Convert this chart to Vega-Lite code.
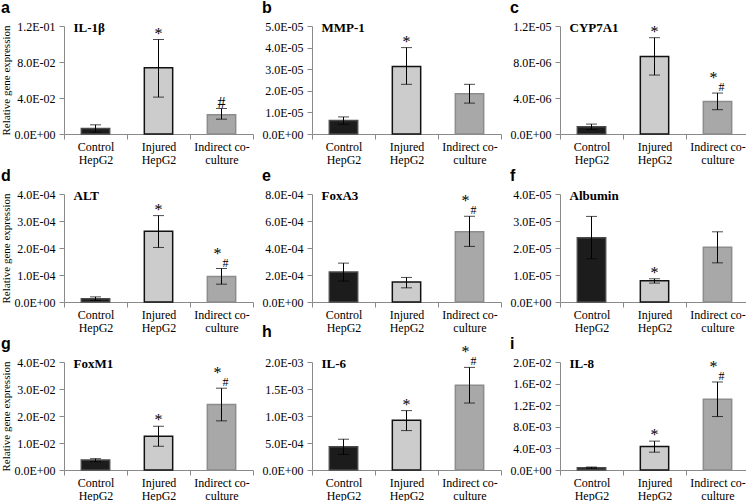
{
"$schema": "https://vega.github.io/schema/vega-lite/v6.json",
"padding": {"left": 0, "top": 0, "right": 0, "bottom": 0},
"data": {"values": [
{"p":"a","gene":"IL-1β","g":"Control|HepG2","v":0.006,"lo":0.002,"hi":0.0102,"s1":"","s2":""},
{"p":"a","gene":"IL-1β","g":"Injured|HepG2","v":0.0735,"lo":0.041,"hi":0.105,"s1":"*","s2":""},
{"p":"a","gene":"IL-1β","g":"Indirect co-|culture","v":0.0215,"lo":0.0165,"hi":0.0283,"s1":"#","s2":""},
{"p":"b","gene":"MMP-1","g":"Control|HepG2","v":6.2e-6,"lo":4.5e-6,"hi":7.9e-6,"s1":"","s2":""},
{"p":"b","gene":"MMP-1","g":"Injured|HepG2","v":3.12e-5,"lo":2.3e-5,"hi":4.0e-5,"s1":"*","s2":""},
{"p":"b","gene":"MMP-1","g":"Indirect co-|culture","v":1.86e-5,"lo":1.43e-5,"hi":2.3e-5,"s1":"","s2":""},
{"p":"c","gene":"CYP7A1","g":"Control|HepG2","v":8e-7,"lo":5e-7,"hi":1.1e-6,"s1":"","s2":""},
{"p":"c","gene":"CYP7A1","g":"Injured|HepG2","v":8.6e-6,"lo":6.55e-6,"hi":1.07e-5,"s1":"*","s2":""},
{"p":"c","gene":"CYP7A1","g":"Indirect co-|culture","v":3.6e-6,"lo":2.7e-6,"hi":4.55e-6,"s1":"*","s2":"#"},
{"p":"d","gene":"ALT","g":"Control|HepG2","v":1.2e-5,"lo":0.6e-5,"hi":1.9e-5,"s1":"","s2":""},
{"p":"d","gene":"ALT","g":"Injured|HepG2","v":2.62e-4,"lo":2.02e-4,"hi":3.2e-4,"s1":"*","s2":""},
{"p":"d","gene":"ALT","g":"Indirect co-|culture","v":9.4e-5,"lo":6.6e-5,"hi":1.24e-4,"s1":"*","s2":"#"},
{"p":"e","gene":"FoxA3","g":"Control|HepG2","v":2.22e-4,"lo":1.55e-4,"hi":2.88e-4,"s1":"","s2":""},
{"p":"e","gene":"FoxA3","g":"Injured|HepG2","v":1.48e-4,"lo":1.05e-4,"hi":1.82e-4,"s1":"","s2":""},
{"p":"e","gene":"FoxA3","g":"Indirect co-|culture","v":5.2e-4,"lo":4.12e-4,"hi":6.35e-4,"s1":"*","s2":"#"},
{"p":"f","gene":"Albumin","g":"Control|HepG2","v":2.38e-5,"lo":1.6e-5,"hi":3.17e-5,"s1":"","s2":""},
{"p":"f","gene":"Albumin","g":"Injured|HepG2","v":7.9e-6,"lo":7.0e-6,"hi":8.6e-6,"s1":"*","s2":""},
{"p":"f","gene":"Albumin","g":"Indirect co-|culture","v":2.03e-5,"lo":1.45e-5,"hi":2.6e-5,"s1":"","s2":""},
{"p":"g","gene":"FoxM1","g":"Control|HepG2","v":3.7e-3,"lo":3.1e-3,"hi":4.2e-3,"s1":"","s2":""},
{"p":"g","gene":"FoxM1","g":"Injured|HepG2","v":1.25e-2,"lo":8.8e-3,"hi":1.62e-2,"s1":"*","s2":""},
{"p":"g","gene":"FoxM1","g":"Indirect co-|culture","v":2.43e-2,"lo":1.82e-2,"hi":3.03e-2,"s1":"*","s2":"#"},
{"p":"h","gene":"IL-6","g":"Control|HepG2","v":4.3e-4,"lo":2.9e-4,"hi":5.7e-4,"s1":"","s2":""},
{"p":"h","gene":"IL-6","g":"Injured|HepG2","v":9.2e-4,"lo":7.3e-4,"hi":1.1e-3,"s1":"*","s2":""},
{"p":"h","gene":"IL-6","g":"Indirect co-|culture","v":1.57e-3,"lo":1.24e-3,"hi":1.9e-3,"s1":"*","s2":"#"},
{"p":"i","gene":"IL-8","g":"Control|HepG2","v":4.2e-4,"lo":3.2e-4,"hi":5.5e-4,"s1":"","s2":""},
{"p":"i","gene":"IL-8","g":"Injured|HepG2","v":4.35e-3,"lo":3.3e-3,"hi":5.35e-3,"s1":"*","s2":""},
{"p":"i","gene":"IL-8","g":"Indirect co-|culture","v":1.31e-2,"lo":9.9e-3,"hi":1.63e-2,"s1":"*","s2":"#"}
]},
"columns": 3,
"bounds": "flush",
"spacing": {"row": 60, "column": 59},
"concat": [
{"title": "a", "width": 189, "height": 108, "transform": [{"filter": "datum.p == 'a'"}],
 "encoding": {"x": {"field": "g", "type": "nominal", "sort": null}},
 "layer": [
  {"mark": {"type": "bar", "width": {"band": 0.45}, "strokeWidth": 1.5},
   "encoding": {"y": {"field": "v", "type": "quantitative", "title": "Relative gene expression", "scale": {"domain": [0, 0.12]}, "axis": {"values": [0, 0.04, 0.08, 0.12]}},
     "fill": {"field": "g", "type": "nominal", "sort": null, "scale": {"range": ["#1c1c1c", "#cccccc", "#a8a8a8"]}, "legend": null},
     "stroke": {"field": "g", "type": "nominal", "sort": null, "scale": {"range": ["#4a4a4a", "#111111", "#8c8c8c"]}, "legend": null}}},
  {"mark": {"type": "errorbar", "ticks": {"size": 11, "color": "#000"}, "rule": {"color": "#000"}}, "encoding": {"y": {"field": "lo", "type": "quantitative", "title": "Relative gene expression"}, "y2": {"field": "hi"}}},
  {"transform": [{"filter": "datum.s2 == ''"}], "mark": {"type": "text", "fontSize": 16, "fill": "#000", "baseline": "alphabetic", "dy": -1}, "encoding": {"y": {"field": "hi", "type": "quantitative", "title": "Relative gene expression"}, "text": {"field": "s1"}}},
  {"transform": [{"filter": "datum.s2 != ''"}], "mark": {"type": "text", "fontSize": 16, "fill": "#000", "baseline": "alphabetic", "dx": -4, "dy": -10}, "encoding": {"y": {"field": "hi", "type": "quantitative", "title": "Relative gene expression"}, "text": {"field": "s1"}}},
  {"transform": [{"filter": "datum.s2 != ''"}], "mark": {"type": "text", "fontSize": 12, "fill": "#000", "baseline": "alphabetic", "dx": 4, "dy": -2}, "encoding": {"y": {"field": "hi", "type": "quantitative", "title": "Relative gene expression"}, "text": {"field": "s2"}}},
  {"transform": [{"filter": "datum.g == 'Control|HepG2'"}], "mark": {"type": "text", "fontSize": 13, "fill": "#000", "fontWeight": "bold", "align": "left", "baseline": "middle", "dx": -22, "dy": 2}, "encoding": {"y": {"datum": 0.12, "type": "quantitative"}, "text": {"field": "gene"}}}
 ]},
{"title": "b", "width": 189, "height": 108, "transform": [{"filter": "datum.p == 'b'"}],
 "encoding": {"x": {"field": "g", "type": "nominal", "sort": null}},
 "layer": [
  {"mark": {"type": "bar", "width": {"band": 0.45}, "strokeWidth": 1.5},
   "encoding": {"y": {"field": "v", "type": "quantitative", "title": null, "scale": {"domain": [0, 5e-5]}, "axis": {"values": [0, 1e-5, 2e-5, 3e-5, 4e-5, 5e-5]}},
     "fill": {"field": "g", "type": "nominal", "sort": null, "legend": null},
     "stroke": {"field": "g", "type": "nominal", "sort": null, "legend": null}}},
  {"mark": {"type": "errorbar", "ticks": {"size": 11, "color": "#000"}, "rule": {"color": "#000"}}, "encoding": {"y": {"field": "lo", "type": "quantitative", "title": null}, "y2": {"field": "hi"}}},
  {"transform": [{"filter": "datum.s2 == ''"}], "mark": {"type": "text", "fontSize": 16, "fill": "#000", "baseline": "alphabetic", "dy": -1}, "encoding": {"y": {"field": "hi", "type": "quantitative", "title": null}, "text": {"field": "s1"}}},
  {"transform": [{"filter": "datum.s2 != ''"}], "mark": {"type": "text", "fontSize": 16, "fill": "#000", "baseline": "alphabetic", "dx": -4, "dy": -10}, "encoding": {"y": {"field": "hi", "type": "quantitative", "title": null}, "text": {"field": "s1"}}},
  {"transform": [{"filter": "datum.s2 != ''"}], "mark": {"type": "text", "fontSize": 12, "fill": "#000", "baseline": "alphabetic", "dx": 4, "dy": -2}, "encoding": {"y": {"field": "hi", "type": "quantitative", "title": null}, "text": {"field": "s2"}}},
  {"transform": [{"filter": "datum.g == 'Control|HepG2'"}], "mark": {"type": "text", "fontSize": 13, "fill": "#000", "fontWeight": "bold", "align": "left", "baseline": "middle", "dx": -22, "dy": 2}, "encoding": {"y": {"datum": 5e-5, "type": "quantitative"}, "text": {"field": "gene"}}}
 ]},
{"title": "c", "width": 189, "height": 108, "transform": [{"filter": "datum.p == 'c'"}],
 "encoding": {"x": {"field": "g", "type": "nominal", "sort": null}},
 "layer": [
  {"mark": {"type": "bar", "width": {"band": 0.45}, "strokeWidth": 1.5},
   "encoding": {"y": {"field": "v", "type": "quantitative", "title": null, "scale": {"domain": [0, 1.2e-5]}, "axis": {"values": [0, 4e-6, 8e-6, 1.2e-5]}},
     "fill": {"field": "g", "type": "nominal", "sort": null, "legend": null},
     "stroke": {"field": "g", "type": "nominal", "sort": null, "legend": null}}},
  {"mark": {"type": "errorbar", "ticks": {"size": 11, "color": "#000"}, "rule": {"color": "#000"}}, "encoding": {"y": {"field": "lo", "type": "quantitative", "title": null}, "y2": {"field": "hi"}}},
  {"transform": [{"filter": "datum.s2 == ''"}], "mark": {"type": "text", "fontSize": 16, "fill": "#000", "baseline": "alphabetic", "dy": -1}, "encoding": {"y": {"field": "hi", "type": "quantitative", "title": null}, "text": {"field": "s1"}}},
  {"transform": [{"filter": "datum.s2 != ''"}], "mark": {"type": "text", "fontSize": 16, "fill": "#000", "baseline": "alphabetic", "dx": -4, "dy": -10}, "encoding": {"y": {"field": "hi", "type": "quantitative", "title": null}, "text": {"field": "s1"}}},
  {"transform": [{"filter": "datum.s2 != ''"}], "mark": {"type": "text", "fontSize": 12, "fill": "#000", "baseline": "alphabetic", "dx": 4, "dy": -2}, "encoding": {"y": {"field": "hi", "type": "quantitative", "title": null}, "text": {"field": "s2"}}},
  {"transform": [{"filter": "datum.g == 'Control|HepG2'"}], "mark": {"type": "text", "fontSize": 13, "fill": "#000", "fontWeight": "bold", "align": "left", "baseline": "middle", "dx": -22, "dy": 2}, "encoding": {"y": {"datum": 1.2e-5, "type": "quantitative"}, "text": {"field": "gene"}}}
 ]},
{"title": "d", "width": 189, "height": 108, "transform": [{"filter": "datum.p == 'd'"}],
 "encoding": {"x": {"field": "g", "type": "nominal", "sort": null}},
 "layer": [
  {"mark": {"type": "bar", "width": {"band": 0.45}, "strokeWidth": 1.5},
   "encoding": {"y": {"field": "v", "type": "quantitative", "title": "Relative gene expression", "scale": {"domain": [0, 4e-4]}, "axis": {"values": [0, 1e-4, 2e-4, 3e-4, 4e-4]}},
     "fill": {"field": "g", "type": "nominal", "sort": null, "legend": null},
     "stroke": {"field": "g", "type": "nominal", "sort": null, "legend": null}}},
  {"mark": {"type": "errorbar", "ticks": {"size": 11, "color": "#000"}, "rule": {"color": "#000"}}, "encoding": {"y": {"field": "lo", "type": "quantitative", "title": "Relative gene expression"}, "y2": {"field": "hi"}}},
  {"transform": [{"filter": "datum.s2 == ''"}], "mark": {"type": "text", "fontSize": 16, "fill": "#000", "baseline": "alphabetic", "dy": -1}, "encoding": {"y": {"field": "hi", "type": "quantitative", "title": "Relative gene expression"}, "text": {"field": "s1"}}},
  {"transform": [{"filter": "datum.s2 != ''"}], "mark": {"type": "text", "fontSize": 16, "fill": "#000", "baseline": "alphabetic", "dx": -4, "dy": -10}, "encoding": {"y": {"field": "hi", "type": "quantitative", "title": "Relative gene expression"}, "text": {"field": "s1"}}},
  {"transform": [{"filter": "datum.s2 != ''"}], "mark": {"type": "text", "fontSize": 12, "fill": "#000", "baseline": "alphabetic", "dx": 4, "dy": -2}, "encoding": {"y": {"field": "hi", "type": "quantitative", "title": "Relative gene expression"}, "text": {"field": "s2"}}},
  {"transform": [{"filter": "datum.g == 'Control|HepG2'"}], "mark": {"type": "text", "fontSize": 13, "fill": "#000", "fontWeight": "bold", "align": "left", "baseline": "middle", "dx": -22, "dy": 2}, "encoding": {"y": {"datum": 4e-4, "type": "quantitative"}, "text": {"field": "gene"}}}
 ]},
{"title": "e", "width": 189, "height": 108, "transform": [{"filter": "datum.p == 'e'"}],
 "encoding": {"x": {"field": "g", "type": "nominal", "sort": null}},
 "layer": [
  {"mark": {"type": "bar", "width": {"band": 0.45}, "strokeWidth": 1.5},
   "encoding": {"y": {"field": "v", "type": "quantitative", "title": null, "scale": {"domain": [0, 8e-4]}, "axis": {"values": [0, 2e-4, 4e-4, 6e-4, 8e-4]}},
     "fill": {"field": "g", "type": "nominal", "sort": null, "legend": null},
     "stroke": {"field": "g", "type": "nominal", "sort": null, "legend": null}}},
  {"mark": {"type": "errorbar", "ticks": {"size": 11, "color": "#000"}, "rule": {"color": "#000"}}, "encoding": {"y": {"field": "lo", "type": "quantitative", "title": null}, "y2": {"field": "hi"}}},
  {"transform": [{"filter": "datum.s2 == ''"}], "mark": {"type": "text", "fontSize": 16, "fill": "#000", "baseline": "alphabetic", "dy": -1}, "encoding": {"y": {"field": "hi", "type": "quantitative", "title": null}, "text": {"field": "s1"}}},
  {"transform": [{"filter": "datum.s2 != ''"}], "mark": {"type": "text", "fontSize": 16, "fill": "#000", "baseline": "alphabetic", "dx": -4, "dy": -10}, "encoding": {"y": {"field": "hi", "type": "quantitative", "title": null}, "text": {"field": "s1"}}},
  {"transform": [{"filter": "datum.s2 != ''"}], "mark": {"type": "text", "fontSize": 12, "fill": "#000", "baseline": "alphabetic", "dx": 4, "dy": -2}, "encoding": {"y": {"field": "hi", "type": "quantitative", "title": null}, "text": {"field": "s2"}}},
  {"transform": [{"filter": "datum.g == 'Control|HepG2'"}], "mark": {"type": "text", "fontSize": 13, "fill": "#000", "fontWeight": "bold", "align": "left", "baseline": "middle", "dx": -22, "dy": 2}, "encoding": {"y": {"datum": 8e-4, "type": "quantitative"}, "text": {"field": "gene"}}}
 ]},
{"title": "f", "width": 189, "height": 108, "transform": [{"filter": "datum.p == 'f'"}],
 "encoding": {"x": {"field": "g", "type": "nominal", "sort": null}},
 "layer": [
  {"mark": {"type": "bar", "width": {"band": 0.45}, "strokeWidth": 1.5},
   "encoding": {"y": {"field": "v", "type": "quantitative", "title": null, "scale": {"domain": [0, 4e-5]}, "axis": {"values": [0, 1e-5, 2e-5, 3e-5, 4e-5]}},
     "fill": {"field": "g", "type": "nominal", "sort": null, "legend": null},
     "stroke": {"field": "g", "type": "nominal", "sort": null, "legend": null}}},
  {"mark": {"type": "errorbar", "ticks": {"size": 11, "color": "#000"}, "rule": {"color": "#000"}}, "encoding": {"y": {"field": "lo", "type": "quantitative", "title": null}, "y2": {"field": "hi"}}},
  {"transform": [{"filter": "datum.s2 == ''"}], "mark": {"type": "text", "fontSize": 16, "fill": "#000", "baseline": "alphabetic", "dy": -1}, "encoding": {"y": {"field": "hi", "type": "quantitative", "title": null}, "text": {"field": "s1"}}},
  {"transform": [{"filter": "datum.s2 != ''"}], "mark": {"type": "text", "fontSize": 16, "fill": "#000", "baseline": "alphabetic", "dx": -4, "dy": -10}, "encoding": {"y": {"field": "hi", "type": "quantitative", "title": null}, "text": {"field": "s1"}}},
  {"transform": [{"filter": "datum.s2 != ''"}], "mark": {"type": "text", "fontSize": 12, "fill": "#000", "baseline": "alphabetic", "dx": 4, "dy": -2}, "encoding": {"y": {"field": "hi", "type": "quantitative", "title": null}, "text": {"field": "s2"}}},
  {"transform": [{"filter": "datum.g == 'Control|HepG2'"}], "mark": {"type": "text", "fontSize": 13, "fill": "#000", "fontWeight": "bold", "align": "left", "baseline": "middle", "dx": -22, "dy": 2}, "encoding": {"y": {"datum": 4e-5, "type": "quantitative"}, "text": {"field": "gene"}}}
 ]},
{"title": "g", "width": 189, "height": 108, "transform": [{"filter": "datum.p == 'g'"}],
 "encoding": {"x": {"field": "g", "type": "nominal", "sort": null}},
 "layer": [
  {"mark": {"type": "bar", "width": {"band": 0.45}, "strokeWidth": 1.5},
   "encoding": {"y": {"field": "v", "type": "quantitative", "title": "Relative gene expression", "scale": {"domain": [0, 0.04]}, "axis": {"values": [0, 0.01, 0.02, 0.03, 0.04]}},
     "fill": {"field": "g", "type": "nominal", "sort": null, "legend": null},
     "stroke": {"field": "g", "type": "nominal", "sort": null, "legend": null}}},
  {"mark": {"type": "errorbar", "ticks": {"size": 11, "color": "#000"}, "rule": {"color": "#000"}}, "encoding": {"y": {"field": "lo", "type": "quantitative", "title": "Relative gene expression"}, "y2": {"field": "hi"}}},
  {"transform": [{"filter": "datum.s2 == ''"}], "mark": {"type": "text", "fontSize": 16, "fill": "#000", "baseline": "alphabetic", "dy": -1}, "encoding": {"y": {"field": "hi", "type": "quantitative", "title": "Relative gene expression"}, "text": {"field": "s1"}}},
  {"transform": [{"filter": "datum.s2 != ''"}], "mark": {"type": "text", "fontSize": 16, "fill": "#000", "baseline": "alphabetic", "dx": -4, "dy": -10}, "encoding": {"y": {"field": "hi", "type": "quantitative", "title": "Relative gene expression"}, "text": {"field": "s1"}}},
  {"transform": [{"filter": "datum.s2 != ''"}], "mark": {"type": "text", "fontSize": 12, "fill": "#000", "baseline": "alphabetic", "dx": 4, "dy": -2}, "encoding": {"y": {"field": "hi", "type": "quantitative", "title": "Relative gene expression"}, "text": {"field": "s2"}}},
  {"transform": [{"filter": "datum.g == 'Control|HepG2'"}], "mark": {"type": "text", "fontSize": 13, "fill": "#000", "fontWeight": "bold", "align": "left", "baseline": "middle", "dx": -22, "dy": 2}, "encoding": {"y": {"datum": 0.04, "type": "quantitative"}, "text": {"field": "gene"}}}
 ]},
{"title": "h", "width": 189, "height": 108, "transform": [{"filter": "datum.p == 'h'"}],
 "encoding": {"x": {"field": "g", "type": "nominal", "sort": null}},
 "layer": [
  {"mark": {"type": "bar", "width": {"band": 0.45}, "strokeWidth": 1.5},
   "encoding": {"y": {"field": "v", "type": "quantitative", "title": null, "scale": {"domain": [0, 2e-3]}, "axis": {"values": [0, 5e-4, 1e-3, 1.5e-3, 2e-3]}},
     "fill": {"field": "g", "type": "nominal", "sort": null, "legend": null},
     "stroke": {"field": "g", "type": "nominal", "sort": null, "legend": null}}},
  {"mark": {"type": "errorbar", "ticks": {"size": 11, "color": "#000"}, "rule": {"color": "#000"}}, "encoding": {"y": {"field": "lo", "type": "quantitative", "title": null}, "y2": {"field": "hi"}}},
  {"transform": [{"filter": "datum.s2 == ''"}], "mark": {"type": "text", "fontSize": 16, "fill": "#000", "baseline": "alphabetic", "dy": -1}, "encoding": {"y": {"field": "hi", "type": "quantitative", "title": null}, "text": {"field": "s1"}}},
  {"transform": [{"filter": "datum.s2 != ''"}], "mark": {"type": "text", "fontSize": 16, "fill": "#000", "baseline": "alphabetic", "dx": -4, "dy": -10}, "encoding": {"y": {"field": "hi", "type": "quantitative", "title": null}, "text": {"field": "s1"}}},
  {"transform": [{"filter": "datum.s2 != ''"}], "mark": {"type": "text", "fontSize": 12, "fill": "#000", "baseline": "alphabetic", "dx": 4, "dy": -2}, "encoding": {"y": {"field": "hi", "type": "quantitative", "title": null}, "text": {"field": "s2"}}},
  {"transform": [{"filter": "datum.g == 'Control|HepG2'"}], "mark": {"type": "text", "fontSize": 13, "fill": "#000", "fontWeight": "bold", "align": "left", "baseline": "middle", "dx": -22, "dy": 2}, "encoding": {"y": {"datum": 2e-3, "type": "quantitative"}, "text": {"field": "gene"}}}
 ]},
{"title": "i", "width": 189, "height": 108, "transform": [{"filter": "datum.p == 'i'"}],
 "encoding": {"x": {"field": "g", "type": "nominal", "sort": null}},
 "layer": [
  {"mark": {"type": "bar", "width": {"band": 0.45}, "strokeWidth": 1.5},
   "encoding": {"y": {"field": "v", "type": "quantitative", "title": null, "scale": {"domain": [0, 0.02]}, "axis": {"values": [0, 0.004, 0.008, 0.012, 0.016, 0.02]}},
     "fill": {"field": "g", "type": "nominal", "sort": null, "legend": null},
     "stroke": {"field": "g", "type": "nominal", "sort": null, "legend": null}}},
  {"mark": {"type": "errorbar", "ticks": {"size": 11, "color": "#000"}, "rule": {"color": "#000"}}, "encoding": {"y": {"field": "lo", "type": "quantitative", "title": null}, "y2": {"field": "hi"}}},
  {"transform": [{"filter": "datum.s2 == ''"}], "mark": {"type": "text", "fontSize": 16, "fill": "#000", "baseline": "alphabetic", "dy": -1}, "encoding": {"y": {"field": "hi", "type": "quantitative", "title": null}, "text": {"field": "s1"}}},
  {"transform": [{"filter": "datum.s2 != ''"}], "mark": {"type": "text", "fontSize": 16, "fill": "#000", "baseline": "alphabetic", "dx": -4, "dy": -10}, "encoding": {"y": {"field": "hi", "type": "quantitative", "title": null}, "text": {"field": "s1"}}},
  {"transform": [{"filter": "datum.s2 != ''"}], "mark": {"type": "text", "fontSize": 12, "fill": "#000", "baseline": "alphabetic", "dx": 4, "dy": -2}, "encoding": {"y": {"field": "hi", "type": "quantitative", "title": null}, "text": {"field": "s2"}}},
  {"transform": [{"filter": "datum.g == 'Control|HepG2'"}], "mark": {"type": "text", "fontSize": 13, "fill": "#000", "fontWeight": "bold", "align": "left", "baseline": "middle", "dx": -22, "dy": 2}, "encoding": {"y": {"datum": 0.02, "type": "quantitative"}, "text": {"field": "gene"}}}
 ]}
],
"config": {
 "view": {"stroke": null},
 "font": "Liberation Serif",
 "text": {"font": "Liberation Serif", "color": "#000"},
 "scale": {"bandPaddingInner": 0, "bandPaddingOuter": 0},
 "axis": {"labelFont": "Liberation Serif", "labelFontSize": 12, "labelColor": "#000", "domainColor": "#8a8a8a", "tickColor": "#8a8a8a", "grid": false, "titleFont": "Liberation Serif", "titleFontWeight": "normal", "titleFontSize": 11, "titleColor": "#000"},
 "axisX": {"title": null, "labelAngle": 0, "tickBand": "extent", "tickSize": 5, "labelPadding": 2, "labelLineHeight": 13, "labelExpr": "split(datum.label, '|')"},
 "axisY": {"tickSize": 5, "tickCount": 20, "labelPadding": 4, "titlePadding": 2, "labelOverlap": false, "labelFlush": false, "labelExpr": "replace(replace(format(datum.value, '.1e'), 'e-', 'E-0'), 'e+', 'E+0')"},
 "title": {"font": "Liberation Sans", "fontSize": 16, "fontWeight": "bold", "anchor": "start", "frame": "bounds", "offset": 0, "color": "#000"}
}
}
